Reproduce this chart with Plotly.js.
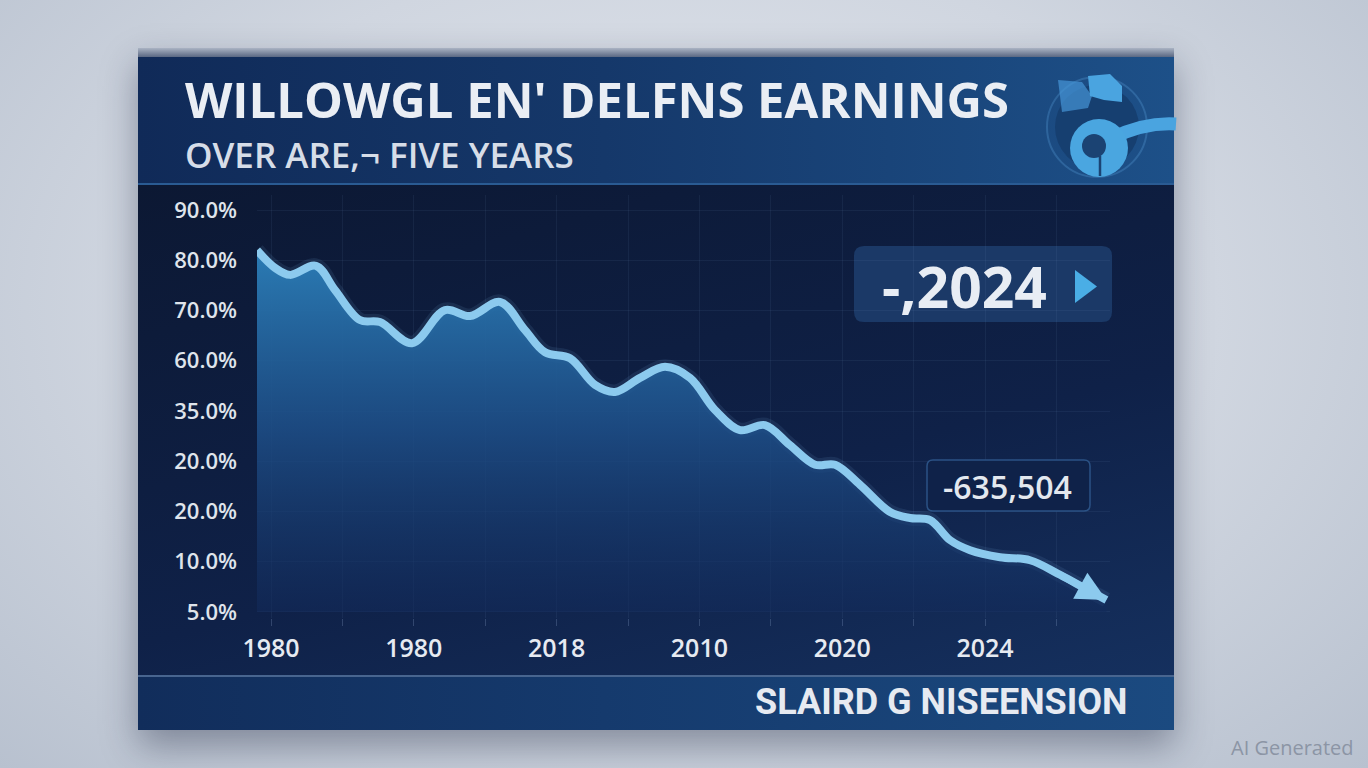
<!DOCTYPE html>
<html>
<head>
<meta charset="utf-8">
<script src="https://cdn.plot.ly/plotly-3.0.1.min.js"></script>
<style>
  html, body { margin: 0; padding: 0; width: 1368px; height: 768px; overflow: hidden; }
  body { background: radial-gradient(ellipse at 50% 40%, #e4e8ef 0%, #d0d6e0 55%, #b8c1cf 100%); position: relative; font-family: "Open Sans", sans-serif; }
  #panel { position: absolute; left: 138px; top: 48px; width: 1036px; height: 682px; box-shadow: 0 16px 34px rgba(20,30,55,0.38); }
  #bevel { position: absolute; left: 0; top: 0; width: 100%; height: 9px; background: linear-gradient(to bottom, #aab3c3, #5a6883); }
  #header { position: absolute; left: 0; top: 9px; width: 100%; height: 126px; background: linear-gradient(90deg, #102a58 0%, #15386a 45%, #1d5088 100%); border-bottom: 2px solid #2a5b93; }
  #body { position: absolute; left: 0; top: 137px; width: 100%; height: 490px; background: linear-gradient(165deg, #0c1833 0%, #0f2148 60%, #15305e 100%); }
  #footer { position: absolute; left: 0; top: 627px; width: 100%; height: 55px; background: linear-gradient(90deg, #112d5b 0%, #153a6d 45%, #1b4a80 100%); border-top: 2px solid #48658f; box-sizing: border-box; }
  #chart { position: absolute; left: 0; top: 0; width: 1368px; height: 768px; }
</style>
</head>
<body>
<div id="panel"><div id="bevel"></div><div id="header"></div><div id="body"></div><div id="footer"></div></div>
<div id="chart"></div>
<script>
// ---- data (positions in tick-label units) ----
const xTickLabels = ['1980', '1980', '2018', '2010', '2020', '2024'];
const yTickLabels = ['5.0%', '10.0%', '20.0%', '20.0%', '35.0%', '60.0%', '70.0%', '80.0%', '90.0%'];
const pointPos = [-0.098, 0.028, 0.133, 0.315, 0.448, 0.623, 0.763, 0.987, 1.218, 1.394, 1.604, 1.779, 1.919, 2.094, 2.269, 2.409, 2.584, 2.759, 2.934, 3.109, 3.284, 3.459, 3.634, 3.810, 3.950, 4.125, 4.335, 4.475, 4.615, 4.755, 4.895, 5.105, 5.315, 5.525, 5.700, 5.850];
const earnings = [7.20, 6.85, 6.71, 6.89, 6.41, 5.81, 5.77, 5.35, 6.01, 5.89, 6.17, 5.61, 5.17, 5.05, 4.52, 4.38, 4.66, 4.88, 4.66, 4.02, 3.62, 3.72, 3.32, 2.93, 2.93, 2.53, 1.99, 1.87, 1.83, 1.43, 1.23, 1.09, 1.03, 0.74, 0.47, 0.24];
const titleText = "WILLOWGL EN' DELFNS EARNINGS";
const subtitleText = 'OVER ARE,\u00AC FIVE YEARS';
const badgeText = '-,2024';
const valueText = '-635,504';
const footerText = 'SLAIRD G NISEENSION';

// ---- layout helpers: page pixels -> paper coordinates ----
const M = { l: 257, r: 258, t: 195, b: 150 };
const PW = 1368 - M.l - M.r, PH = 768 - M.t - M.b;
const X = px => (px - M.l) / PW;
const Y = py => (768 - M.b - py) / PH;
function roundRect(x0, y0, x1, y1, r) {
  const rx = r / PW, ry = r / PH;
  const a = X(x0), b = X(x1), t = Y(y0), u = Y(y1);
  return `M${a + rx},${t} L${b - rx},${t} Q${b},${t} ${b},${t - ry} L${b},${u + ry} Q${b},${u} ${b - rx},${u} L${a + rx},${u} Q${a},${u} ${a},${u + ry} L${a},${t - ry} Q${a},${t} ${a + rx},${t} Z`;
}
function circ(cx, cy, r, extra) {
  return Object.assign({ type: 'circle', xref: 'paper', yref: 'paper', x0: X(cx - r), x1: X(cx + r), y0: Y(cy + r), y1: Y(cy - r), layer: 'above' }, extra);
}
function pth(pts, extra) {
  const d = 'M' + pts.map(p => X(p[0]) + ',' + Y(p[1])).join(' L') + ' Z';
  return Object.assign({ type: 'path', xref: 'paper', yref: 'paper', path: d, layer: 'above' }, extra);
}

const glow = {
  x: pointPos, y: earnings, type: 'scatter', mode: 'lines',
  line: { shape: 'spline', smoothing: 1, color: 'rgba(140,200,245,0.10)', width: 15 },
  hoverinfo: 'skip', showlegend: false
};
const area = {
  x: pointPos, y: earnings, type: 'scatter', mode: 'lines',
  fill: 'tozeroy',
  fillgradient: { type: 'vertical', start: 0, stop: 7.3, colorscale: [[0, 'rgba(18,42,90,0.55)'], [0.5, 'rgba(30,80,138,0.85)'], [1, '#2b7db6']] },
  line: { shape: 'spline', smoothing: 1, color: '#8ccaee', width: 8 },
  hoverinfo: 'skip', showlegend: false
};
const n = pointPos.length;

const layout = {
  width: 1368, height: 768,
  margin: M,
  paper_bgcolor: 'rgba(0,0,0,0)', plot_bgcolor: 'rgba(0,0,0,0)',
  showlegend: false,
  xaxis: {
    range: [-0.098, 5.875], tickmode: 'array', tickvals: xTickLabels.map((_, i) => i), ticktext: xTickLabels,
    showgrid: false, zeroline: false, showline: false, ticks: '',
    ticklabelstandoff: 13,
    tickfont: { family: 'Open Sans', size: 25, color: '#e6eaf1', weight: 600 },
    minor: { dtick: 0.5, tick0: 0, showgrid: true, gridcolor: 'rgba(120,150,200,0.09)', gridwidth: 1, ticks: 'outside', ticklen: 7, tickcolor: 'rgba(150,175,215,0.25)' }
  },
  yaxis: {
    range: [-0.12, 8.3], tickmode: 'array', tickvals: yTickLabels.map((_, i) => i), ticktext: yTickLabels,
    showgrid: true, gridcolor: 'rgba(120,150,200,0.09)', zeroline: false, showline: false, ticks: '',
    ticklabelstandoff: 19,
    tickfont: { family: 'Open Sans', size: 22, color: '#dfe4eb', weight: 600 }
  },
  shapes: [
    // logo
    circ(1097, 127, 50, { line: { color: 'rgba(90,160,220,0.30)', width: 2 }, fillcolor: 'rgba(0,0,0,0)' }),
    circ(1097, 127, 42, { line: { width: 0 }, fillcolor: '#163f70' }),
    pth([[1058, 80], [1082, 82], [1092, 96], [1088, 108], [1062, 112]], { line: { width: 0 }, fillcolor: 'rgba(70,150,215,0.70)' }),
    pth([[1088, 76], [1110, 74], [1122, 86], [1122, 102], [1104, 100], [1090, 96]], { line: { width: 0 }, fillcolor: '#4aa4e0' }),
    { type: 'path', xref: 'paper', yref: 'paper', layer: 'above', path: `M${X(1112)},${Y(138)} Q${X(1145)},${Y(122)} ${X(1176)},${Y(124)}`, line: { color: '#4aa4e0', width: 13 } },
    circ(1099, 148, 29, { line: { width: 0 }, fillcolor: '#4aa6e0' }),
    circ(1094, 146, 12, { line: { width: 0 }, fillcolor: '#1b4373' }),
    { type: 'line', xref: 'paper', yref: 'paper', layer: 'above', x0: X(1100), x1: X(1100), y0: Y(156), y1: Y(176), line: { color: '#1b4373', width: 2.5 } },
    // badge boxes
    { type: 'path', xref: 'paper', yref: 'paper', layer: 'below', path: roundRect(854, 246, 1112, 322, 10), fillcolor: '#1b3967', line: { width: 0 } },
    pth([[1075, 270], [1075, 303], [1097, 286.5]], { line: { width: 0 }, fillcolor: '#4aaee6' }),
    { type: 'path', xref: 'paper', yref: 'paper', layer: 'above', path: roundRect(927, 460, 1090, 511, 6), fillcolor: '#0f2249', line: { color: '#2b5285', width: 1.5 } }
  ],
  annotations: [
    { xref: 'paper', yref: 'paper', x: X(183), y: Y(99), xanchor: 'left', yanchor: 'middle', showarrow: false, text: titleText,
      font: { family: 'Open Sans', size: 49, color: '#eaeef4', weight: 700 } },
    { xref: 'paper', yref: 'paper', x: X(183), y: Y(154), xanchor: 'left', yanchor: 'middle', showarrow: false, text: subtitleText,
      font: { family: 'Open Sans', size: 35, color: '#d6dde8', weight: 600 } },
    { xref: 'paper', yref: 'paper', x: X(964), y: Y(286), xanchor: 'center', yanchor: 'middle', showarrow: false, text: badgeText,
      font: { family: 'Open Sans', size: 57, color: '#e8edf4', weight: 700 } },
    { xref: 'paper', yref: 'paper', x: X(1007), y: Y(486), xanchor: 'center', yanchor: 'middle', showarrow: false, text: valueText,
      font: { family: 'Open Sans', size: 32, color: '#e3e8ef', weight: 600 } },
    { xref: 'paper', yref: 'paper', x: X(1130), y: Y(702), xanchor: 'right', yanchor: 'middle', showarrow: false, text: footerText,
      font: { family: 'Roboto', size: 36, color: '#e6eaf1', weight: 700 } },
    { xref: 'paper', yref: 'paper', x: X(1356), y: Y(747), xanchor: 'right', yanchor: 'middle', showarrow: false, text: 'AI Generated',
      font: { family: 'Open Sans', size: 20, color: '#8c95a5' } },
    // arrow head at the end of the line
    { x: pointPos[n - 1], y: earnings[n - 1], ax: pointPos[n - 3], ay: earnings[n - 3], axref: 'x', ayref: 'y', xref: 'x', yref: 'y',
      showarrow: true, text: '', arrowhead: 2, arrowsize: 0.85, arrowwidth: 7, arrowcolor: '#8ccaee', standoff: 0 }
  ]
};

Plotly.newPlot('chart', [glow, area], layout, { displayModeBar: false, staticPlot: true });
</script>
</body>
</html>
